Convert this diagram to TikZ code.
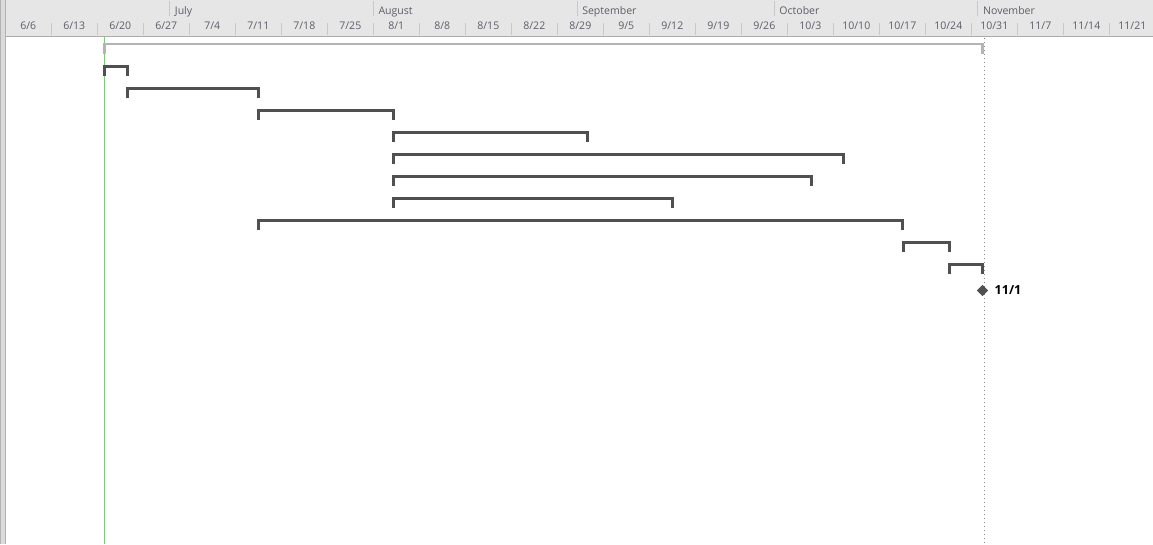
\documentclass[tikz,border=0pt]{standalone}
\usepackage{fontspec}
\setmainfont{Open Sans}
\usepackage{tikz}
\usetikzlibrary{positioning, shapes.geometric}
\definecolor{ganttbar}{HTML}{505050}
\definecolor{ganttsum}{HTML}{B4B4B4}
\definecolor{scalebg}{HTML}{E6E6E6}
\definecolor{scaleline}{HTML}{C8C8C8}
\definecolor{scaletext}{HTML}{5D5D6A}
\definecolor{todaygreen}{HTML}{7DC87D}
\colorlet{deadlinegray}{black!50}
\colorlet{framegray}{black!30}

\begin{document}
\begin{tikzpicture}[x=0.75pt, y=-0.75pt,
    bracket/.style={draw=ganttbar, line width=2.25pt, line join=miter},
    sumbracket/.style={draw=ganttsum, line width=1.8pt, line join=miter},
    month/.style={anchor=base west, inner sep=0pt, font=\fontsize{7.9}{9}\selectfont, text=scaletext},
    week/.style={anchor=base, inner sep=0pt, font=\fontsize{7.9}{9}\selectfont, text=scaletext},
    scaletick/.style={draw=scaleline, line width=0.75pt},
    milestone/.style={diamond, fill=ganttbar, inner sep=0pt, minimum width=8.5pt, minimum height=8.5pt},
    mslabel/.style={inner sep=0pt, font=\fontsize{9.4}{11}\selectfont\bfseries, text=black},
]
\useasboundingbox (0,0) rectangle (1153,544);

% ===== Frame and timescale =====
\fill[black!14] (0,0) rectangle (5,544);
\draw[framegray, line width=0.75pt] (0.5,0) -- (0.5,544);
\draw[framegray, line width=0.75pt] (5.5,0) -- (5.5,544);
\fill[scalebg] (6,0) rectangle (1153,36.3);
\draw[black!33, line width=0.75pt] (6,36.8) -- (1153,36.8);

% month row
\draw[scaletick] (169.7,1) -- (169.7,16);
\node[month] (mJul) at (174.7,14.2) {July};
\draw[scaletick] (373.3,1) -- (373.3,16);
\node[month] (mAug) at (378.3,14.2) {August};
\draw[scaletick] (577.0,1) -- (577.0,16);
\node[month] (mSep) at (582.0,14.2) {September};
\draw[scaletick] (774.2,1) -- (774.2,16);
\node[month] (mOct) at (779.2,14.2) {October};
\draw[scaletick] (977.9,1) -- (977.9,16);
\node[month] (mNov) at (982.9,14.2) {November};

% week row
\foreach \k in {1,...,24}
  \draw[scaletick] ({5.3+46*\k},23) -- ({5.3+46*\k},35);
\foreach \mo/\dy [count=\k from 0] in {6/6,6/13,6/20,6/27,7/4,7/11,7/18,7/25,8/1,8/8,8/15,8/22,
    8/29,9/5,9/12,9/19,9/26,10/3,10/10,10/17,10/24,10/31,11/7,11/14,11/21}
  \node[week] (wk\k) at ({28.3+46*\k},29.5) {\mo/\dy};

% ===== Status lines =====
\draw[todaygreen, line width=0.75pt] (104.3,37.3) -- (104.3,544);
\draw[deadlinegray, line width=0.9pt, dash pattern=on 0.9pt off 2.1pt] (984.3,38) -- (984.3,544);

% ===== Task bars =====
\draw[sumbracket] (104.5,54) |- (982.5,44.2) -- (982.5,54);
\draw[bracket] (104.5,76) |- (127.5,66.5) -- (127.5,76);
\draw[bracket] (127.5,98) |- (258.5,88.5) -- (258.5,98);
\draw[bracket] (258.5,120) |- (393.5,110.5) -- (393.5,120);
\draw[bracket] (393.5,142) |- (587.5,132.5) -- (587.5,142);
\draw[bracket] (393.5,164) |- (843.5,154.5) -- (843.5,164);
\draw[bracket] (393.5,186) |- (811.5,176.5) -- (811.5,186);
\draw[bracket] (393.5,208) |- (672.5,198.5) -- (672.5,208);
\draw[bracket] (258.5,230) |- (902.5,220.5) -- (902.5,230);
\draw[bracket] (903.5,252) |- (949.5,242.5) -- (949.5,252);
\draw[bracket] (949.5,274) |- (982.5,264.5) -- (982.5,274);

% ===== Milestone =====
\node[milestone] (ms) at (982.5,290.5) {};
\node[mslabel, right=4.5pt of ms] (mslbl) {11/1};

\end{tikzpicture}
\end{document}
